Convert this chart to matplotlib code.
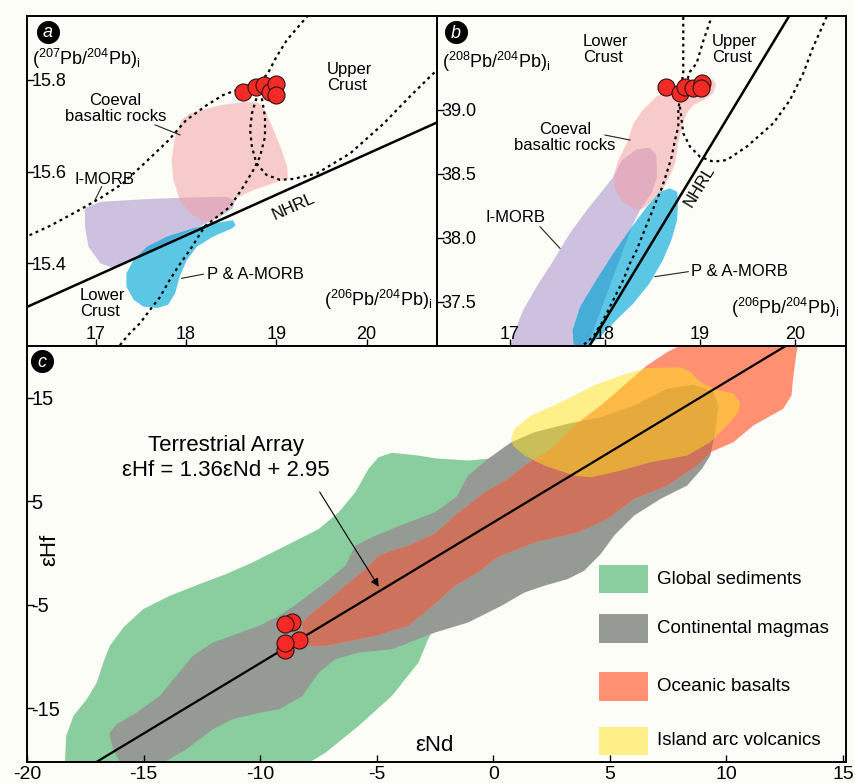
import matplotlib
matplotlib.use("Agg")
import matplotlib.pyplot as plt
from matplotlib.patches import Polygon, Rectangle

plt.rcParams['font.family'] = ['Liberation Sans', 'DejaVu Sans']
plt.rcParams['mathtext.fontset'] = 'custom'
plt.rcParams['mathtext.rm'] = 'Liberation Sans'
plt.rcParams['mathtext.it'] = 'Liberation Sans:italic'
plt.rcParams['mathtext.bf'] = 'Liberation Sans:bold'
plt.rcParams['axes.unicode_minus'] = False

BG = '#FDFDF7'

# ---------------- (a) 207Pb/204Pb vs 206Pb/204Pb ----------------
a_samples_x = [18.63, 18.78, 18.86, 18.93, 19.00, 19.00]
a_samples_y = [15.773, 15.784, 15.788, 15.774, 15.791, 15.767]

a_coeval_x = [18.04, 18.38, 18.67, 18.82, 18.89, 18.97, 19.06, 19.12, 19.13, 19.08, 18.75,
              18.56, 18.45, 18.30, 18.19, 18.04, 17.93, 17.86, 17.84, 17.88, 17.95]
a_coeval_y = [15.727, 15.745, 15.753, 15.749, 15.727, 15.691, 15.647, 15.611, 15.585, 15.582, 15.560,
              15.542, 15.516, 15.494, 15.491, 15.509, 15.538, 15.582, 15.625, 15.676, 15.713]

a_imorb_x = [16.88, 17.05, 17.57, 18.12, 18.45, 18.54, 18.52, 18.38, 18.16, 17.88, 17.60,
             17.32, 17.20, 17.05, 16.92, 16.88]
a_imorb_y = [15.520, 15.534, 15.540, 15.544, 15.545, 15.536, 15.520, 15.502, 15.481, 15.455, 15.424,
             15.398, 15.389, 15.400, 15.436, 15.480]

a_pamorb_x = [18.52, 18.55, 18.51, 18.30, 18.12, 18.01, 17.93, 17.88, 17.80, 17.68, 17.53,
              17.42, 17.34, 17.34, 17.42, 17.57, 17.79, 18.08, 18.30]
a_pamorb_y = [15.494, 15.483, 15.476, 15.458, 15.436, 15.407, 15.371, 15.334, 15.309, 15.302, 15.305,
              15.320, 15.349, 15.378, 15.407, 15.436, 15.458, 15.476, 15.487]

a_nhrl_x = [16.2, 20.8]
a_nhrl_y = [15.301, 15.709]

a_upper_x = [16.20, 16.50, 16.80, 17.05, 17.30, 17.55, 17.80, 18.00, 18.23, 18.41, 18.56,
             18.70, 18.80, 18.90, 19.00, 19.12, 19.26, 19.40]
a_upper_y = [15.455, 15.482, 15.514, 15.542, 15.574, 15.620, 15.667, 15.712, 15.745, 15.767, 15.778,
             15.789, 15.795, 15.812, 15.850, 15.888, 15.920, 15.952]

a_mantle_x = [18.78, 18.73, 18.71, 18.73, 18.78, 18.89, 19.04, 19.19, 19.45, 19.82, 20.19, 20.48, 20.78, 20.87]
a_mantle_y = [15.760, 15.727, 15.691, 15.654, 15.618, 15.593, 15.582, 15.584, 15.596, 15.640, 15.705,
              15.764, 15.822, 15.840]

a_lower_x = [18.84, 18.875, 18.875, 18.82, 18.745, 18.635, 18.487, 18.21, 18.044, 17.911, 17.80,
             17.712, 17.601, 17.491, 17.358, 17.269, 17.21]
a_lower_y = [15.760, 15.720, 15.676, 15.633, 15.603, 15.567, 15.523, 15.481, 15.429, 15.392, 15.357,
             15.326, 15.298, 15.269, 15.243, 15.221, 15.205]

# ---------------- (b) 208Pb/204Pb vs 206Pb/204Pb ----------------
b_samples_x = [18.64, 18.79, 18.84, 18.93, 19.02, 19.01]
b_samples_y = [39.182, 39.131, 39.182, 39.170, 39.209, 39.170]

b_coeval_x = [19.14, 19.17, 19.14, 19.04, 18.93, 18.86, 18.81, 18.77, 18.74, 18.68, 18.61, 18.51, 18.40,
              18.33, 18.19, 18.11, 18.09, 18.14, 18.23, 18.30, 18.40, 18.54, 18.68, 18.90, 19.04]
b_coeval_y = [39.240, 39.196, 39.131, 39.078, 39.039, 38.974, 38.869, 38.739, 38.583, 38.478, 38.374,
              38.295, 38.230, 38.211, 38.282, 38.374, 38.478, 38.608, 38.739, 38.896, 39.000, 39.104,
              39.157, 39.209, 39.235]

b_imorb_x = [18.33, 18.47, 18.54, 18.55, 18.49, 18.37, 18.30, 18.23, 17.84, 17.79, 16.98, 17.00,
             17.04, 17.14, 17.28, 17.46, 17.63, 17.81, 17.98, 18.09, 18.18]
b_imorb_y = [38.692, 38.705, 38.648, 38.478, 38.348, 38.217, 38.115, 37.982, 37.199, 37.121, 37.121,
             37.146, 37.251, 37.434, 37.616, 37.825, 38.034, 38.217, 38.374, 38.478, 38.608]

b_pamorb_x = [18.68, 18.76, 18.77, 18.76, 18.70, 18.61, 18.47, 18.30, 18.12, 17.95, 17.84, 17.72,
              17.67, 17.66, 17.74, 17.91, 18.09, 18.26, 18.44, 18.58]
b_pamorb_y = [38.387, 38.360, 38.295, 38.139, 37.982, 37.825, 37.643, 37.486, 37.356, 37.225, 37.160,
              37.13, 37.173, 37.277, 37.460, 37.669, 37.878, 38.060, 38.243, 38.360]

b_nhrl_x = [17.80, 19.95]
b_nhrl_y = [37.108, 39.750]

b_lower_x = [18.824, 18.824, 18.80, 18.772, 18.772, 18.737, 18.702, 18.649, 18.597, 18.544, 18.474,
             18.403, 18.334, 18.263, 18.193, 18.123, 18.053, 17.965, 17.877, 17.772, 17.716]
b_lower_y = [39.78, 39.298, 39.157, 39.0, 38.869, 38.765, 38.634, 38.504, 38.387, 38.295, 38.164,
             38.034, 37.904, 37.800, 37.669, 37.565, 37.460, 37.330, 37.225, 37.160, 37.105]

b_upper_x = [19.15, 19.105, 19.03, 18.965, 18.895, 18.86]
b_upper_y = [39.80, 39.692, 39.53, 39.366, 39.300, 39.22]

b_mantle_x = [18.789, 18.824, 18.895, 19.0, 19.14, 19.281, 19.492, 19.772, 19.947, 20.087, 20.193,
              20.334, 20.368]
b_mantle_y = [39.026, 38.818, 38.713, 38.634, 38.595, 38.608, 38.713, 38.896, 39.078, 39.287, 39.496,
              39.731, 39.80]

# ---------------- (c) eHf vs eNd ----------------
c_samples_x = [-8.63, -8.95, -8.92, -8.35, -8.95]
c_samples_y = [-6.63, -6.85, -9.37, -8.40, -8.72]

array_slope = 1.36
array_intercept = 2.95

c_sed_x = [-18.38, -18.37, -18.32, -18.01, -17.44, -17.01, -16.73, -16.45, -15.87, -15.02, -13.88,
           -12.60, -11.46, -10.32, -9.76, -8.62, -7.48, -6.63, -5.92, -5.35, -4.92, -4.35, -3.21,
           -2.50, -1.08, -0.15, 0.06, -1.09, -2.37, -2.79, -3.21, -4.35, -5.78, -7.20, -7.91, -8.14]
c_sed_y = [-20.98, -20.11, -17.69, -15.75, -14.14, -12.53, -10.60, -8.98, -7.21, -5.43, -4.14,
           -3.01, -2.04, -0.91, -0.27, 1.02, 2.32, 3.93, 5.86, 8.13, 9.25, 9.68, 9.41,
           9.15, 8.93, 9.12, 8.06, 0.31, -6.46, -8.33, -10.60, -13.82, -16.72, -19.31, -20.28, -20.98]

c_cont_x = [-15.95, -16.02, -16.30, -16.45, -16.45, -16.16, -15.31, -14.31, -13.60, -12.89, -12.03,
            -11.04, -10.04, -9.19, -8.34, -7.20, -6.34, -5.92, -5.06, -3.64, -2.50, -1.56, -1.08,
            -0.23, 0.77, 1.77, 3.19, 4.61, 6.04, 7.46, 8.60, 9.45, 9.66, 9.52, 9.31, 8.95, 8.31,
            7.17, 6.04, 5.18, 4.61, 3.90, 3.19, 2.19, 1.34, 0.35, -1.08, -2.50, -4.35, -5.78,
            -6.77, -7.48, -8.19, -9.19, -10.04, -11.18, -12.03, -13.17, -14.03, -14.32]
c_cont_y = [-20.98, -20.21, -18.98, -17.69, -17.37, -16.56, -15.44, -13.82, -11.88, -9.95, -8.66,
            -7.85, -7.04, -6.07, -4.79, -2.85, -1.23, 0.70, 1.67, 2.96, 3.93, 5.47, 7.48,
            9.09, 10.70, 11.67, 12.48, 13.12, 14.25, 15.87, 16.26, 15.54, 14.25, 11.67, 9.41, 8.13, 6.51,
            5.22, 3.61, 1.67, -0.10, -1.72, -2.52, -3.17, -3.82, -5.11, -6.72, -7.69, -9.30, -9.63,
            -10.27, -11.56, -13.82, -15.11, -15.44, -16.07, -17.04, -18.98, -20.11, -20.98]

c_ocean_x = [-8.19, -8.19, -7.91, -7.20, -6.34, -5.49, -4.92, -4.35, -3.64, -2.50, -1.65, -0.37,
             0.63, 1.34, 2.48, 3.47, 4.61, 5.61, 6.60, 7.46, 8.03, 8.30, 13.21, 13.08, 13.01, 12.86,
             12.79, 12.44, 11.16, 10.30, 9.31, 8.74, 7.46, 6.04, 4.90, 3.62, 1.77, 0.35, 0.06,
             -0.65, -1.65, -2.50, -3.64, -5.06, -6.48, -7.20, -7.91, -8.14]
c_ocean_y = [-7.43, -6.72, -6.07, -4.79, -3.17, -1.55, -0.27, 0.22, 0.70, 1.86, 3.61, 5.86,
             7.16, 8.45, 10.06, 12.32, 14.25, 16.19, 18.13, 19.41, 20.06, 20.84, 20.84, 20.06, 19.41, 16.84,
             15.22, 13.94, 12.32, 10.70, 9.73, 8.45, 6.51, 5.22, 3.29, 1.99, 1.02, -0.27, -0.59,
             -1.88, -3.17, -4.91, -7.04, -8.01, -8.66, -8.98, -8.98, -8.40]

c_arc_x = [0.77, 0.91, 1.63, 2.91, 4.33, 5.47, 6.60, 8.03, 8.46, 8.88, 9.45, 10.30, 10.59, 10.52,
           10.16, 9.31, 8.31, 6.75, 5.47, 4.19, 3.47, 2.19, 1.34, 0.84]
c_arc_y = [11.03, 12.00, 13.29, 14.57, 16.19, 17.16, 17.87, 17.96, 17.48, 16.51, 15.87, 15.39, 14.57,
           13.61, 12.64, 10.70, 9.41, 8.77, 7.96, 7.31, 7.48, 8.45, 9.41, 10.38]

legend_labels = ['Global sediments', 'Continental magmas', 'Oceanic basalts', 'Island arc volcanics']

# ---------------- styling ----------------
PINK = '#F59BA1'
PURPLE = '#CEC1DF'
BLUE = '#5BC7E5'
BLUE_ON_PURPLE = '#45ADD8'
GREEN = '#8ACEA0'
GREY = '#959A95'
ORANGE = '#FF9172'
ORANGE_ON_GREY = '#CD725D'
YELLOW = '#FFE21D'
RED = '#F42A26'
DOT = dict(color='k', lw=1.6, linestyle=(0, (1.3, 1.7)), dash_capstyle='butt', zorder=3)
MARKER = dict(s=150, facecolor=RED, edgecolor='#301010', linewidth=0.8, zorder=6)

fig = plt.figure(figsize=(8.55, 7.83), dpi=100, facecolor=BG)
ax_a = fig.add_axes([27 / 855, 1 - 346 / 783, 410 / 855, 330 / 783])
ax_b = fig.add_axes([437 / 855, 1 - 346 / 783, 409 / 855, 330 / 783])
ax_c = fig.add_axes([27 / 855, 1 - 762 / 783, 819 / 855, 416 / 783])


def frame(ax, xticks, yticks, ylabels, size, inside_x=True):
    ax.set_facecolor(BG)
    ax.set_xticks(xticks)
    ax.set_yticks(yticks)
    ax.set_yticklabels(ylabels)
    ax.tick_params(direction='in', length=5, width=1.0, labelsize=size, colors='k')
    ax.tick_params(axis='y', pad=-3)
    for t in ax.get_yticklabels():
        t.set_ha('left')
    if inside_x:
        ax.tick_params(axis='x', pad=-2)
        for t in ax.get_xticklabels():
            t.set_va('bottom')
    for s in ax.spines.values():
        s.set_linewidth(1.4)
        s.set_color('k')


def panel_tag(ax, letter, x, y, size=13):
    ax.plot([x], [y], 'o', ms=15.6, color='k', transform=ax.transAxes, clip_on=False, zorder=10)
    ax.text(x, y - 0.003, letter, transform=ax.transAxes, color='white', fontsize=size,
            style='italic', ha='center', va='center', zorder=11)


def leader(ax, xs, ys):
    ax.plot(xs, ys, color='#222222', lw=0.8, zorder=4)


def poly(ax, xs, ys, **kw):
    p = Polygon(list(zip(xs, ys)), closed=True, lw=0, joinstyle='round', **kw)
    ax.add_patch(p)
    return p


# ---- panel a ----
ax = ax_a
ax.set_xlim(16.239, 20.780)
ax.set_ylim(15.2192, 15.9397)
purple_a = poly(ax, a_imorb_x, a_imorb_y, facecolor=PURPLE, zorder=1)
poly(ax, a_coeval_x, a_coeval_y, facecolor=PINK, alpha=0.5, zorder=1.1)
poly(ax, a_pamorb_x, a_pamorb_y, facecolor=BLUE, zorder=1.2)
over = poly(ax, a_pamorb_x, a_pamorb_y, facecolor=BLUE_ON_PURPLE, zorder=1.3)
over.set_clip_path(purple_a)
ax.plot(a_nhrl_x, a_nhrl_y, color='k', lw=1.8, zorder=3)
ax.plot(a_upper_x, a_upper_y, **DOT)
ax.plot(a_mantle_x, a_mantle_y, **DOT)
ax.plot(a_lower_x, a_lower_y, **DOT)
ax.scatter(a_samples_x, a_samples_y, **MARKER)
frame(ax, [17, 18, 19, 20], [15.4, 15.6, 15.8], ['15.4', '15.6', '15.8'], 13)
ax.text(16.29, 15.846, r'($^{207}$Pb/$^{204}$Pb)$_{\rm i}$', fontsize=13, ha='left', va='center')
ax.text(20.735, 15.320, r'($^{206}$Pb/$^{204}$Pb)$_{\rm i}$', fontsize=13, ha='right', va='center')
ax.text(19.561, 15.805, 'Upper\nCrust', fontsize=12, ha='left', va='center', linespacing=1.05)
ax.text(17.22, 15.738, 'Coeval\nbasaltic rocks', fontsize=12, ha='center', va='center',
        multialignment='center', linespacing=1.05)
ax.text(17.092, 15.582, 'I-MORB', fontsize=12, ha='center', va='center')
ax.text(19.185, 15.523, 'NHRL', fontsize=12, ha='center', va='center', rotation=24)
ax.text(18.764, 15.376, 'P & A-MORB', fontsize=12, ha='center', va='center')
ax.text(16.826, 15.312, 'Lower\nCrust', fontsize=12, ha='left', va='center', linespacing=1.05)
leader(ax, [17.657, 17.934], [15.702, 15.680])
leader(ax, [17.066, 16.992], [15.567, 15.538])
leader(ax, [17.952, 18.192], [15.367, 15.376])
panel_tag(ax, 'a', 0.0512, 0.9515)

# ---- panel b ----
ax = ax_b
ax.set_xlim(16.232, 20.537)
ax.set_ylim(37.152, 39.736)
purple_b = poly(ax, b_imorb_x, b_imorb_y, facecolor=PURPLE, zorder=1)
poly(ax, b_coeval_x, b_coeval_y, facecolor=PINK, alpha=0.5, zorder=1.1)
poly(ax, b_pamorb_x, b_pamorb_y, facecolor=BLUE, zorder=1.2)
over = poly(ax, b_pamorb_x, b_pamorb_y, facecolor=BLUE_ON_PURPLE, zorder=1.3)
over.set_clip_path(purple_b)
ax.plot(b_nhrl_x, b_nhrl_y, color='k', lw=1.8, zorder=3)
ax.plot(b_upper_x, b_upper_y, **DOT)
ax.plot(b_mantle_x, b_mantle_y, **DOT)
ax.plot(b_lower_x, b_lower_y, **DOT)
ax.scatter(b_samples_x, b_samples_y, **MARKER)
frame(ax, [17, 18, 19, 20], [37.5, 38.0, 38.5, 39.0], ['37.5', '38.0', '38.5', '39.0'], 13)
ax.text(16.281, 39.378, r'($^{208}$Pb/$^{204}$Pb)$_{\rm i}$', fontsize=13, ha='left', va='center')
ax.text(20.474, 37.447, r'($^{206}$Pb/$^{204}$Pb)$_{\rm i}$', fontsize=13, ha='right', va='center')
ax.text(17.768, 39.475, 'Lower\nCrust', fontsize=12, ha='left', va='center', linespacing=1.05)
ax.text(19.123, 39.475, 'Upper\nCrust', fontsize=12, ha='left', va='center', linespacing=1.05)
ax.text(17.579, 38.785, 'Coeval\nbasaltic rocks', fontsize=12, ha='center', va='center',
        multialignment='center', linespacing=1.05)
ax.text(17.061, 38.160, 'I-MORB', fontsize=12, ha='center', va='center')
ax.text(19.0, 38.399, 'NHRL', fontsize=12, ha='center', va='center', rotation=58.8)
ax.text(19.411, 37.739, 'P & A-MORB', fontsize=12, ha='center', va='center')
leader(ax, [18.0, 18.263], [38.804, 38.765])
leader(ax, [17.316, 17.526], [38.086, 37.917])
leader(ax, [18.526, 18.877], [37.695, 37.734])
panel_tag(ax, 'b', 0.046, 0.951)

# ---- panel c ----
ax = ax_c
ax.set_xlim(-20, 15.13)
ax.set_ylim(-20.2, 20.0)
poly(ax, c_sed_x, c_sed_y, facecolor=GREEN, zorder=1)
grey = poly(ax, c_cont_x, c_cont_y, facecolor=GREY, zorder=1.1)
poly(ax, c_ocean_x, c_ocean_y, facecolor=ORANGE, zorder=1.2)
over = poly(ax, c_ocean_x, c_ocean_y, facecolor=ORANGE_ON_GREY, zorder=1.3)
over.set_clip_path(grey)
poly(ax, c_arc_x, c_arc_y, facecolor=YELLOW, alpha=0.5, zorder=1.4)
ax.axline((0, array_intercept), slope=array_slope, color='k', lw=1.6, zorder=3)
ax.scatter(c_samples_x, c_samples_y, **MARKER)
frame(ax, [-20, -15, -10, -5, 0, 5, 10, 15], [-15, -5, 5, 15], ['-15', '-5', '5', '15'], 14.5,
      inside_x=False)
ax.tick_params(axis='x', pad=3, labelsize=14)
ax.text(-11.46, 9.17, 'Terrestrial Array\nεHf = 1.36εNd + 2.95', fontsize=16, ha='center',
        va='center', multialignment='center', linespacing=1.2)
ax.annotate('', xy=(-4.85, -3.49), xytext=(-7.51, 6.12),
            arrowprops=dict(arrowstyle='-|>', color='k', lw=0.8, mutation_scale=12), zorder=4)
ax.text(-2.54, -18.56, 'εNd', fontsize=16, ha='center', va='center')
ax.text(-19.02, 0.32, 'εHf', fontsize=16, ha='center', va='center', rotation=90)

# key boxes for the four fields, stacked in the lower right of panel c
key_styles = [dict(facecolor=GREEN), dict(facecolor=GREY), dict(facecolor=ORANGE),
              dict(facecolor=YELLOW, alpha=0.5)]
key_bottoms = [0.4055, 0.2868, 0.1466, 0.0168]
key_heights = [0.0673, 0.0683, 0.0697, 0.0680]
for label, style, y0, h in zip(legend_labels, key_styles, key_bottoms, key_heights):
    ax.add_patch(Rectangle((0.6988, y0), 0.0595, h, transform=ax.transAxes, lw=0, zorder=5, **style))
    ax.text(0.7692, y0 + h / 2, label, transform=ax.transAxes, fontsize=13.5, ha='left',
            va='center', zorder=5)
panel_tag(ax, 'c', 0.0183, 0.964)

fig.savefig('out.png', dpi=100, facecolor=BG)
